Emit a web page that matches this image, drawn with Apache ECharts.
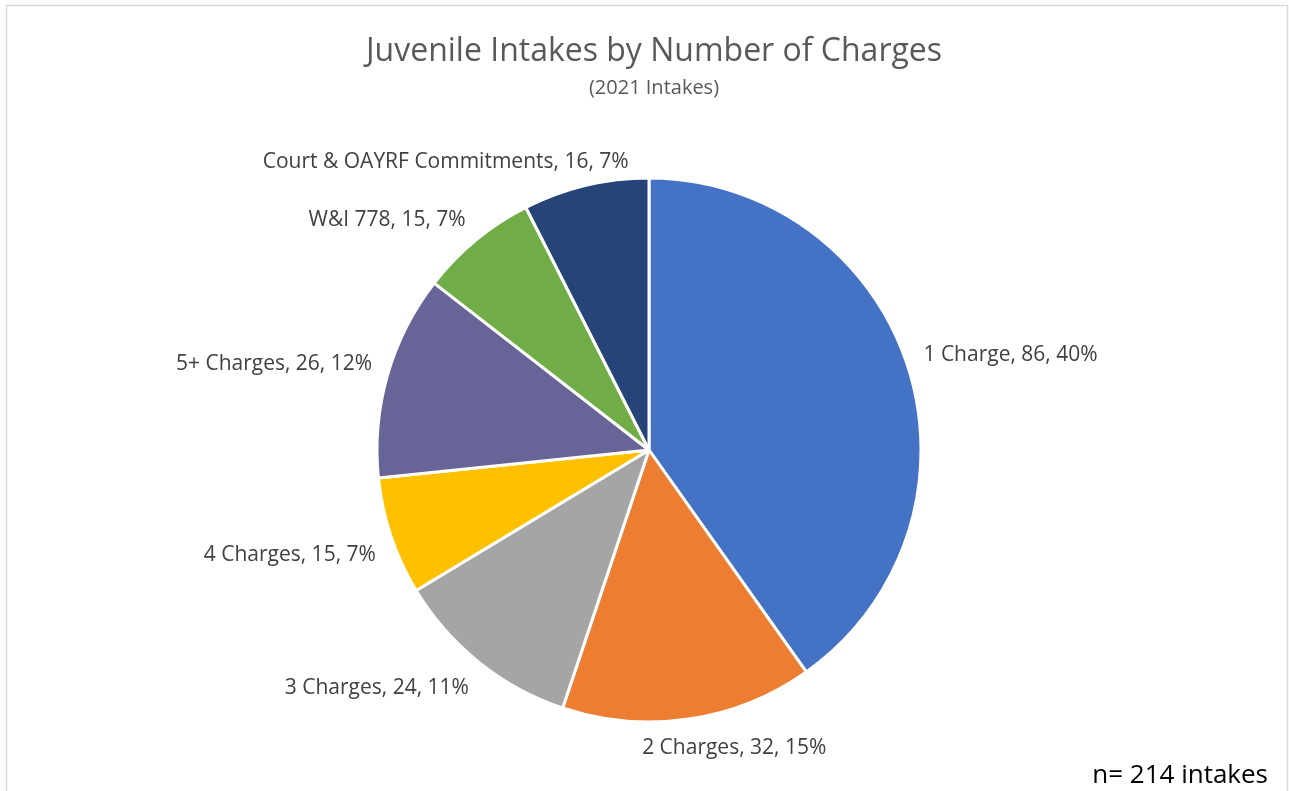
<!DOCTYPE html>
<html>
<head>
<meta charset="utf-8">
<script src="https://cdn.jsdelivr.net/npm/echarts@6/dist/echarts.min.js"></script>
<style>
  html, body { margin: 0; padding: 0; background: #fff; }
  #chart { width: 1289px; height: 791px; }
</style>
</head>
<body>
<div id="chart"></div>
<script>
// Intake categories and counts
const categories = ['1 Charge', '2 Charges', '3 Charges', '4 Charges', '5+ Charges', 'W&I 778', 'Court & OAYRF Commitments'];
const counts = [86, 32, 24, 15, 26, 15, 16];
const sliceColors = ['#4472C4', '#ED7D31', '#A5A5A5', '#FFC000', '#676598', '#70AD47', '#264478'];

const titleText = 'Juvenile Intakes by Number of Charges';
const subtitleText = '(2021 Intakes)';
const FONT = "'Open Sans', 'Liberation Sans', sans-serif";

const total = counts.reduce((a, b) => a + b, 0);
const noteText = 'n= ' + total + ' intakes';

// pie geometry
const CX = 649, CY = 450, RADIUS = 272;
const LABEL_GAP = 16;

// mid angle of each slice, clockwise from 12 o'clock (radians)
const midAngles = [];
{
  let acc = 0;
  counts.forEach(v => {
    midAngles.push(((acc + v / 2) / total) * Math.PI * 2);
    acc += v;
  });
}

const clamp = (v, lo, hi) => Math.max(lo, Math.min(hi, v));

const chart = echarts.init(document.getElementById('chart'), null, { renderer: 'canvas' });

chart.setOption({
  backgroundColor: '#ffffff',
  animation: false,
  title: [
    {
      text: titleText,
      subtext: subtitleText,
      left: 649,
      textAlign: 'center',
      top: 31,
      itemGap: 10,
      textStyle: { fontFamily: FONT, fontSize: 32, fontWeight: 'normal', color: '#595959' },
      subtextStyle: { fontFamily: FONT, fontSize: 20, color: '#595959' }
    }
  ],
  graphic: [
    {
      type: 'rect',
      shape: { x: 6.5, y: 5.5, width: 1281, height: 800 },
      style: { fill: 'none', stroke: '#d9d9d9', lineWidth: 1.5 },
      silent: true,
      z: -1
    },
    {
      type: 'text',
      x: 1268,
      y: 776,
      style: {
        text: noteText,
        fontFamily: FONT,
        fontSize: 26,
        fill: '#000000',
        align: 'right',
        verticalAlign: 'middle'
      },
      silent: true
    }
  ],
  series: [
    {
      type: 'pie',
      center: [CX, CY],
      radius: RADIUS,
      startAngle: 90,
      clockwise: true,
      avoidLabelOverlap: false,
      itemStyle: { borderColor: '#ffffff', borderWidth: 3 },
      label: {
        show: true,
        position: 'outside',
        fontFamily: FONT,
        fontSize: 21,
        color: '#404040',
        formatter: p => p.name + ', ' + p.value + ', ' + Math.round(p.percent) + '%'
      },
      labelLine: { show: false },
      // outside-end label placement: the box slides around the slice's radial anchor
      labelLayout: params => {
        const a = midAngles[params.dataIndex];
        const s = Math.sin(a), c = Math.cos(a);
        const w = params.labelRect.width, h = params.labelRect.height;
        const ax = CX + (RADIUS + LABEL_GAP) * s;
        const ay = CY - (RADIUS + LABEL_GAP) * c;
        return {
          x: ax + w * clamp(1.6 * s, -0.5, 0.5),
          y: ay + h * clamp(-1.6 * c, -0.5, 0.5) + 3,
          align: 'center',
          verticalAlign: 'middle'
        };
      },
      emphasis: { disabled: true },
      data: categories.map((name, i) => ({
        name: name,
        value: counts[i],
        itemStyle: { color: sliceColors[i] }
      }))
    }
  ]
});
</script>
</body>
</html>
